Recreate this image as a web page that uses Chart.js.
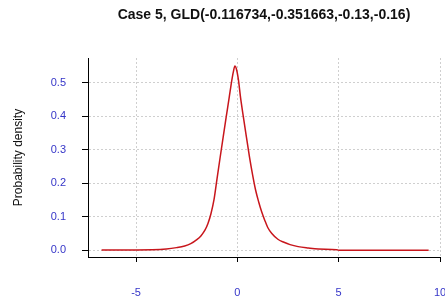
<!DOCTYPE html>
<html>
<head>
<meta charset="utf-8">
<script src="https://cdn.jsdelivr.net/npm/chart.js@4"></script>
<style>
  html, body { margin: 0; padding: 0; background: #fff; }
  #wrap { width: 445px; height: 304px; }
</style>
</head>
<body>
<div id="wrap"><canvas id="densityChart" width="445" height="304"></canvas></div>
<script>
// values
const xValues = [-6.7, -4.2, -3.5, -3.0, -2.6, -2.3, -2.0, -1.8, -1.6, -1.45, -1.3, -1.15, -1.0, -0.85, -0.7,
                 -0.55, -0.4, -0.28, -0.2, -0.12, -0.05, 0.05, 0.16, 0.3, 0.45, 0.6, 0.75, 0.9, 1.05, 1.2,
                 1.35, 1.5, 1.7, 2.0, 2.3, 2.6, 3.0, 3.5, 4.0, 4.9, 5.0, 9.44];
const densities = [0.001, 0.002, 0.004, 0.008, 0.013, 0.02, 0.032, 0.043, 0.06, 0.08, 0.11, 0.152, 0.215, 0.277, 0.338,
                   0.398, 0.457, 0.505, 0.532, 0.55, 0.542, 0.51, 0.455, 0.397, 0.337, 0.278, 0.226, 0.18, 0.145, 0.115,
                   0.09, 0.068, 0.05, 0.033, 0.024, 0.017, 0.011, 0.007, 0.004, 0.002, 0.0005, 0.0005];
const xTicks = [-5, 0, 5, 10];
const yTicks = [0.0, 0.1, 0.2, 0.3, 0.4, 0.5];

const chartTitle = 'Case 5, GLD(-0.116734,-0.351663,-0.13,-0.16)';
const yTitle = 'Probability density';

const points = xValues.map((x, i) => ({ x: x, y: densities[i] }));
const tickBlue = '#3535c8';
const fontFamily = '"Liberation Sans", Arial, sans-serif';

new Chart(document.getElementById('densityChart'), {
  type: 'scatter',
  data: {
    datasets: [{
      data: points,
      showLine: true,
      borderColor: '#c8161c',
      borderWidth: 1.5,
      pointRadius: 0,
      cubicInterpolationMode: 'monotone'
    }]
  },
  options: {
    responsive: false,
    animation: false,
    layout: { padding: { left: 0, right: 5, top: 0, bottom: 0 } },
    plugins: {
      legend: { display: false },
      tooltip: { enabled: false },
      title: {
        display: true,
        text: chartTitle,
        fullSize: false,
        color: '#111',
        font: { family: fontFamily, size: 14, weight: 'bold' },
        padding: { top: 6.6, bottom: 34.6 }
      }
    },
    scales: {
      x: {
        type: 'linear',
        min: -7.37,
        max: 10,
        afterBuildTicks: s => { s.ticks = xTicks.map(v => ({ value: v })); },
        afterFit: s => { s.height = 47; s.paddingLeft = 0; s.paddingRight = 0; },
        ticks: {
          color: tickBlue,
          font: { family: fontFamily, size: 11 },
          padding: 24,
          maxRotation: 0
        },
        grid: { color: '#cfcfcf', tickColor: '#000', tickLength: 5, lineWidth: 1 },
        border: { color: '#000', width: 1, dash: [2, 2] }
      },
      y: {
        type: 'linear',
        min: -0.02,
        max: 0.574,
        afterBuildTicks: s => { s.ticks = yTicks.map(v => ({ value: v })); },
        afterFit: s => { s.width = 88; s.paddingTop = 0; s.paddingBottom = 0; },
        ticks: {
          color: tickBlue,
          font: { family: fontFamily, size: 11 },
          padding: 16,
          callback: v => v.toFixed(1)
        },
        title: {
          display: true,
          text: yTitle,
          color: '#111',
          font: { family: fontFamily, size: 12 },
          padding: { top: 11, bottom: 0 }
        },
        grid: { color: '#cfcfcf', tickColor: '#000', tickLength: 6, lineWidth: 1 },
        border: { color: '#000', width: 1, dash: [2, 2] }
      }
    }
  }
});
</script>
</body>
</html>
